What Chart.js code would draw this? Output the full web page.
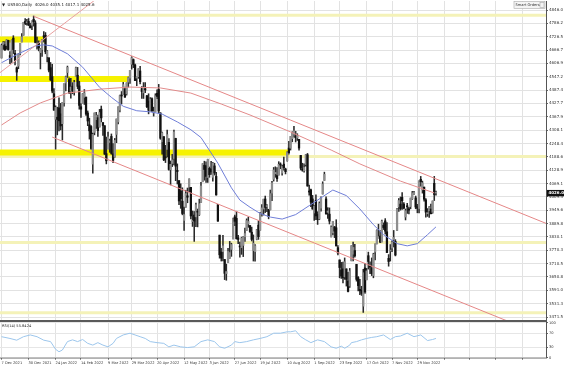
<!DOCTYPE html>
<html>
<head>
<meta charset="utf-8">
<script src="https://cdn.jsdelivr.net/npm/chart.js@4.4.1/dist/chart.umd.min.js"></script>
<style>
  html, body { margin: 0; padding: 0; background: #fff; }
  #wrap { position: relative; width: 564px; height: 369px; overflow: hidden; background: #fff; }
  #main { position: absolute; left: 0; top: 0; }
  #rsi { position: absolute; left: 0; top: 321px; }
</style>
</head>
<body>
<div id="wrap">
  <canvas id="main" width="564" height="322"></canvas>
  <canvas id="rsi" width="564" height="48"></canvas>
</div>
<script>
// US500 daily bars, 7 Dec 2021 .. 14 Dec 2022 (bar index = position)
const opens = [4631,4690,4691,4687,4710,4642,4637,4720,4652,4587,
  4595,4651,4703,4733,4795,4789,4795,4776,4778,4804,
  4788,4693,4697,4655,4669,4728,4733,4637,4632,4588,
  4548,4471,4357,4366,4408,4381,4337,4431,4519,4566,
  4535,4482,4505,4480,4548,4554,4506,4413,4429,4455,
  4456,4385,4332,4324,4156,4298,4355,4364,4322,4402,
  4342,4328,4203,4224,4253,4280,4202,4188,4289,4345,
  4398,4462,4469,4493,4470,4523,4541,4603,4624,4600,
  4541,4547,4573,4494,4475,4494,4462,4438,4396,4449,
  4385,4390,4473,4490,4385,4256,4279,4187,4222,4253,
  4131,4159,4181,4271,4128,4082,4035,3990,3904,3963,
  4014,4053,4052,3899,3928,3920,3942,3930,3985,4077,
  4151,4149,4096,4137,4134,4097,4148,4101,3975,3838,
  3763,3764,3729,3666,3715,3734,3774,3821,3920,3913,
  3826,3786,3782,3792,3831,3859,3888,3881,3851,3769,
  3764,3819,3883,3860,3935,3955,4000,3966,3953,3951,
  4026,4088,4113,4105,4107,4154,4116,4156,4134,4171,
  4228,4227,4270,4290,4281,4273,4267,4195,4133,4126,
  4154,4198,4034,4041,4000,3937,3994,3931,3910,3959,
  4022,4083,4000,3940,3932,3830,3849,3875,3871,3782,
  3727,3682,3687,3651,3687,3633,3610,3723,3753,3769,
  3707,3648,3595,3591,3520,3691,3638,3746,3696,3689,
  3657,3763,3799,3825,3834,3808,3882,3902,3853,3734,
  3767,3780,3818,3810,3859,3964,3977,4007,3977,3919,
  3967,3956,3966,4001,4024,4005,3965,3957,4088,4041,
  4053,3996,3934,3947,3955,3940,4070,4026];
const highs = [4694,4705,4705,4713,4711,4660,4712,4731,4666,4591,
  4651,4697,4740,4791,4808,4804,4808,4787,4797,4819,
  4798,4725,4708,4673,4714,4749,4745,4666,4632,4611,
  4603,4494,4417,4411,4453,4428,4432,4516,4550,4595,
  4542,4540,4521,4531,4590,4589,4527,4427,4472,4490,
  4456,4394,4362,4329,4295,4385,4388,4375,4401,4416,
  4342,4328,4277,4299,4268,4291,4248,4271,4358,4412,
  4465,4481,4522,4501,4520,4546,4576,4637,4627,4604,
  4546,4583,4594,4503,4521,4521,4464,4471,4454,4453,
  4411,4471,4489,4513,4386,4299,4279,4240,4308,4270,
  4170,4200,4308,4272,4157,4082,4068,4050,3964,4039,
  4049,4090,4052,3946,3944,3982,3955,3999,4075,4158,
  4169,4166,4178,4143,4169,4164,4160,4119,3975,3838,
  3779,3837,3729,3708,3779,3810,3802,3914,3928,3945,
  3837,3807,3829,3832,3870,3911,3919,3881,3874,3839,
  3796,3864,3902,3940,3975,3999,4013,3975,3954,4040,
  4079,4141,4144,4140,4167,4162,4151,4187,4138,4211,
  4258,4280,4301,4325,4303,4292,4267,4195,4160,4157,
  4200,4204,4062,4044,4016,3970,4018,3943,3987,4010,
  4077,4120,4009,3961,3960,3880,3900,3877,3907,3791,
  3727,3716,3717,3736,3687,3671,3689,3791,3807,3797,
  3707,3653,3640,3609,3685,3712,3689,3762,3718,3736,
  3757,3799,3862,3887,3859,3905,3893,3912,3894,3751,
  3796,3813,3859,3818,3958,4002,4009,4029,3984,3955,
  3980,3962,4004,4034,4034,4013,3976,4081,4101,4080,
  4053,4002,3957,3966,3977,3991,4101,4035];
const lows = [4631,4670,4665,4670,4666,4606,4611,4651,4600,4531,
  4583,4645,4703,4733,4780,4778,4776,4766,4758,4774,
  4699,4671,4663,4582,4638,4703,4650,4614,4569,4530,
  4475,4396,4223,4287,4305,4309,4264,4415,4484,4544,
  4471,4451,4471,4465,4548,4493,4402,4365,4429,4423,
  4374,4328,4268,4222,4115,4287,4316,4280,4322,4345,
  4285,4199,4157,4224,4209,4200,4162,4187,4252,4336,
  4390,4425,4469,4455,4465,4501,4517,4581,4588,4530,
  4507,4540,4515,4450,4450,4476,4409,4381,4394,4392,
  4371,4390,4449,4384,4267,4201,4171,4163,4188,4129,
  4063,4145,4152,4082,4067,3975,3958,3929,3859,3963,
  3983,4033,3911,3877,3810,3876,3875,3926,3985,4077,
  4084,4074,4074,4097,4110,4080,4107,4017,3900,3735,
  3722,3723,3639,3636,3715,3734,3743,3821,3880,3820,
  3800,3739,3752,3742,3810,3859,3873,3850,3812,3722,
  3722,3817,3819,3860,3923,3928,3939,3943,3911,3951,
  3992,4080,4097,4079,4107,4135,4107,4129,4112,4169,
  4201,4219,4256,4277,4255,4262,4218,4130,4124,4120,
  4147,4057,4017,3966,3954,3904,3907,3886,3907,3945,
  4022,4083,3932,3913,3888,3830,3839,3827,3789,3750,
  3647,3644,3624,3640,3610,3584,3604,3723,3723,3739,
  3632,3588,3571,3568,3492,3577,3638,3686,3666,3657,
  3647,3727,3799,3825,3804,3808,3863,3843,3759,3699,
  3722,3764,3785,3745,3859,3944,3950,3953,3955,3906,
  3935,3933,3956,3998,4020,3956,3938,3937,4057,4026,
  3990,3918,3922,3917,3933,3936,3993,4017];
const closes = [4687,4701,4667,4712,4669,4634,4710,4669,4621,4568,
  4649,4697,4726,4791,4786,4793,4779,4766,4797,4794,
  4701,4696,4677,4670,4713,4726,4659,4663,4577,4533,
  4483,4398,4410,4356,4350,4327,4432,4516,4547,4589,
  4477,4501,4484,4522,4587,4504,4419,4402,4471,4475,
  4380,4349,4305,4226,4289,4385,4374,4306,4387,4363,
  4329,4201,4171,4278,4260,4204,4173,4262,4358,4412,
  4463,4461,4512,4456,4520,4543,4576,4632,4602,4530,
  4546,4583,4525,4481,4500,4488,4413,4397,4447,4393,
  4392,4462,4459,4394,4272,4296,4175,4184,4288,4132,
  4155,4175,4300,4147,4123,3991,4001,3935,3930,4024,
  4008,4089,3924,3901,3901,3974,3941,3979,4058,4158,
  4132,4101,4177,4109,4121,4161,4116,4018,3901,3750,
  3735,3790,3667,3675,3765,3760,3796,3912,3900,3822,
  3819,3785,3825,3831,3845,3903,3899,3854,3819,3802,
  3790,3863,3831,3937,3960,3999,3962,3967,3921,4024,
  4072,4130,4119,4091,4155,4152,4145,4140,4122,4210,
  4207,4280,4297,4305,4274,4284,4228,4138,4129,4141,
  4199,4058,4031,3986,3955,3967,3924,3908,3980,4006,
  4067,4110,3933,3946,3901,3873,3900,3856,3790,3758,
  3693,3655,3647,3719,3640,3586,3678,3791,3783,3745,
  3640,3612,3589,3577,3670,3583,3678,3720,3695,3666,
  3753,3797,3859,3831,3807,3901,3872,3856,3760,3720,
  3771,3807,3828,3749,3956,3993,3957,3992,3959,3947,
  3965,3950,4004,4027,4026,3964,3958,4080,4077,4072,
  3999,3941,3934,3964,3934,3991,4020,4026];

// moving averages (bar index / price)
const ma50Idx = [0,10,20,25,30,39,48,58,65,72,80,88,95,104,112,118,128,136,141,147,
  153,159,166,174,182,190,196,204,212,220,226,234,240,246,252,257];
const ma50Val = [4610,4650,4685,4690,4685,4650,4590,4500,4455,4415,4395,4390,4380,4345,4310,4275,4160,4050,3995,3963,
  3935,3919,3910,3930,3970,4010,4040,4015,3955,3885,3840,3800,3790,3800,3840,3875];
const ma200Idx = [0,11,23,39,59,76,94,112,130,147,171,195,212,236,256];
const ma200Val = [4331,4385,4430,4474,4492,4501,4497,4474,4425,4376,4300,4219,4157,4080,4027];

// trend lines and levels (bar index / price)
const upperLineIdx = [19, 323];
const upperLineVal = [4818, 3888];
const lowerLineIdx = [30, 323];
const lowerLineVal = [4277, 3381];
const riseLineIdx = [-1, 56];
const riseLineVal = [4565, 4895];
const zoneVal = [4714, 4537, 4208];
const zoneEndIdx = [26, 76, 170];
const levelVal = [4822, 4190, 3805, 3490];

// RSI(14)
const rsiIdx = [0,5,9,13,17,21,25,29,32,34,36,39,42,45,48,51,54,57,60,63,
  66,68,72,76,79,82,85,88,92,96,99,102,106,110,114,118,122,126,129,132,
  136,138,141,145,149,153,157,161,165,169,171,174,177,180,183,187,191,195,198,201,
  203,206,207,210,213,216,219,222,226,230,233,236,240,244,248,252,255,257];
const rsiVal = [60,55,50,60,65,60,50,46,24,17,22,46,51,46,52,41,36,43,36,31,
  41,55,65,70,65,60,55,46,43,41,31,36,31,29,31,46,51,46,31,27,
  36,46,43,46,51,55,60,70,70,74,74,77,60,51,43,51,46,31,27,33,
  27,36,43,46,51,55,58,60,65,52,60,62,70,60,65,49,52,55];

// axes
const priceTicks = [4846.0,4786.2,4726.5,4666.7,4606.9,4547.2,4487.4,4427.7,4367.9,4308.1,
  4248.4,4188.6,4128.9,4069.1,4009.3,3949.6,3889.8,3830.1,3770.3,3710.5,3650.8,3591.0,3531.3,3471.5];
const rsiTicks = [100, 70, 30, 0];
const dateTickIdx = [0,16,32,47,63,77,92,108,123,138,153,169,185,200,216,231,246];
const dateTickText = ['7 Dec 2021','30 Dec 2021','24 Jan 2022','14 Feb 2022','9 Mar 2022','29 Mar 2022',
  '20 Apr 2022','12 May 2022','3 Jun 2022','27 Jun 2022','19 Jul 2022','10 Aug 2022','1 Sep 2022',
  '23 Sep 2022','17 Oct 2022','7 Nov 2022','29 Nov 2022'];
const futureGridIdx = [262, 277, 292, 308];

const headerText = '\u25BC  US500,Daily  4026.0 4035.1 4017.1 4025.6';
const rsiText = 'RSI(14) 55.8424';

const X_MIN = -0.9, X_MAX = 322.1;
const FONT = '"DejaVu Sans", "Liberation Sans", sans-serif';
const pts = (xs, ys) => xs.map((x, i) => ({ x: x, y: ys[i] }));

Chart.defaults.font.family = FONT;
Chart.defaults.animation = false;

function lineSet(data, color, width, order) {
  return {
    type: 'line', data: data, borderColor: color, borderWidth: width,
    pointRadius: 0, tension: 0, order: order, fill: false
  };
}

const zoneSets = zoneVal.map((v, i) => lineSet(pts([-1, zoneEndIdx[i]], [v, v]), '#f6f200', 6, 9));
const levelSets = levelVal.map(v => lineSet(pts([-1, 330], [v, v]), '#f4f2b8', 3, 9));

const overlay = {
  id: 'overlay',
  afterDraw(chart) {
    const ctx = chart.ctx;
    const ys = chart.scales.y;
    ctx.save();
    // panel separator
    ctx.fillStyle = '#5a5a5a';
    ctx.fillRect(0, 320, 547, 2);
    // header
    ctx.fillStyle = '#222';
    ctx.font = '4px ' + FONT;
    ctx.textBaseline = 'middle';
    ctx.textAlign = 'left';
    ctx.fillText(headerText, 2, 4.5);
    // smart orders button
    ctx.fillStyle = '#f4f4f4';
    ctx.fillRect(514, 1.5, 31, 7);
    ctx.strokeStyle = '#aaa';
    ctx.lineWidth = 0.6;
    ctx.strokeRect(514, 1.5, 31, 7);
    ctx.strokeRect(540, 2.5, 4, 5);
    ctx.fillStyle = '#333';
    ctx.font = '3.6px ' + FONT;
    ctx.fillText('Smart Orders', 515.5, 5);
    // current price box
    const last = closes[closes.length - 1];
    const py = ys.getPixelForValue(last);
    ctx.fillStyle = '#111';
    ctx.fillRect(547, py - 3.2, 17, 6.4);
    ctx.fillStyle = '#fff';
    ctx.font = 'bold 4px ' + FONT;
    ctx.fillText(last.toFixed(1), 548.5, py);
    ctx.restore();
  }
};

new Chart(document.getElementById('main'), {
  type: 'bar',
  data: {
    datasets: [
      {
        type: 'bar',
        data: pts(lows.map((l, i) => i), lows.map((l, i) => [l, highs[i]])),
        backgroundColor: '#2a2a2a', barThickness: 0.9, grouped: false, order: 4
      },
      {
        type: 'bar',
        data: pts(opens.map((o, i) => i), opens.map((o, i) => [Math.min(o, closes[i]), Math.max(o, closes[i])])),
        backgroundColor: opens.map((o, i) => closes[i] >= o ? '#8e8e8e' : '#111'),
        barThickness: 1.6, minBarLength: 1, grouped: false, order: 3
      },
      lineSet(pts(ma200Idx, ma200Val), '#e38b8b', 1, 1),
      lineSet(pts(ma50Idx, ma50Val), '#6f7ed8', 1, 1),
      lineSet(pts(upperLineIdx, upperLineVal), '#e58787', 1, 0),
      lineSet(pts(lowerLineIdx, lowerLineVal), '#e58787', 1, 0),
      lineSet(pts(riseLineIdx, riseLineVal), '#e8a0a0', 1, 0),
      ...zoneSets,
      ...levelSets
    ]
  },
  options: {
    responsive: false,
    animation: false,
    layout: { padding: { top: 1, bottom: 2, left: 0, right: 0 }, autoPadding: false },
    plugins: { legend: { display: false }, tooltip: { enabled: false } },
    scales: {
      x: {
        type: 'linear', min: X_MIN, max: X_MAX, offset: false,
        afterBuildTicks: (s) => { s.ticks = dateTickIdx.concat(futureGridIdx).map(v => ({ value: v })); },
        afterFit: (s) => { s.height = 0; s.paddingLeft = 0; s.paddingRight = 0; },
        ticks: { display: false },
        grid: { color: '#e2e2e2', lineWidth: 1, drawTicks: false, offset: false },
        border: { display: false }
      },
      y: {
        position: 'right', min: 3458.1, max: 4886.3,
        afterBuildTicks: (s) => { s.ticks = priceTicks.map(v => ({ value: v })); },
        afterFit: (s) => { s.width = 18; s.paddingTop = 0; s.paddingBottom = 0; },
        ticks: {
          font: { size: 4 }, color: '#333', padding: 1,
          callback: (v) => Number(v).toFixed(1)
        },
        grid: { color: '#e2e2e2', lineWidth: 1, drawTicks: true, tickLength: 2, tickColor: '#666' },
        border: { display: true, color: '#555', width: 1 }
      }
    }
  },
  plugins: [overlay]
});

const rsiOverlay = {
  id: 'rsiOverlay',
  afterDraw(chart) {
    const ctx = chart.ctx;
    ctx.save();
    ctx.fillStyle = '#222';
    ctx.font = '3.6px ' + FONT;
    ctx.textBaseline = 'middle';
    ctx.fillText(rsiText, 2, 5);
    ctx.fillStyle = '#666';
    ctx.fillRect(0, chart.chartArea.bottom, 547, 0.8);
    ctx.restore();
  }
};

new Chart(document.getElementById('rsi'), {
  type: 'line',
  data: {
    datasets: [
      lineSet(pts(rsiIdx, rsiVal), '#9cc6ec', 1, 0)
    ]
  },
  options: {
    responsive: false,
    animation: false,
    layout: { padding: { top: 1.7, bottom: 0, left: 0, right: 0 }, autoPadding: false },
    plugins: { legend: { display: false }, tooltip: { enabled: false } },
    scales: {
      x: {
        type: 'linear', min: X_MIN, max: X_MAX, offset: false,
        afterBuildTicks: (s) => { s.ticks = dateTickIdx.concat(futureGridIdx).map(v => ({ value: v })); },
        afterFit: (s) => { s.height = 11.3; s.paddingLeft = 0; s.paddingRight = 0; },
        ticks: {
          autoSkip: false, maxRotation: 0, minRotation: 0, align: 'start',
          font: { size: 3.6 }, color: '#333', padding: 1.5,
          callback: (v) => {
            const k = dateTickIdx.indexOf(Math.round(v));
            return k >= 0 ? dateTickText[k] : '';
          }
        },
        grid: { color: '#e2e2e2', lineWidth: 1, drawTicks: true, tickLength: 2, tickColor: '#666' },
        border: { display: false }
      },
      y: {
        position: 'right', min: 0, max: 100,
        afterBuildTicks: (s) => { s.ticks = rsiTicks.map(v => ({ value: v })); },
        afterFit: (s) => { s.width = 18; s.paddingTop = 0; s.paddingBottom = 0; },
        ticks: { font: { size: 3.6 }, color: '#333', padding: 1 },
        grid: { color: '#e6e6e6', lineWidth: 1, drawTicks: true, tickLength: 2, tickColor: '#666' },
        border: { display: true, color: '#555', width: 1 }
      }
    }
  },
  plugins: [rsiOverlay]
});
</script>
</body>
</html>
